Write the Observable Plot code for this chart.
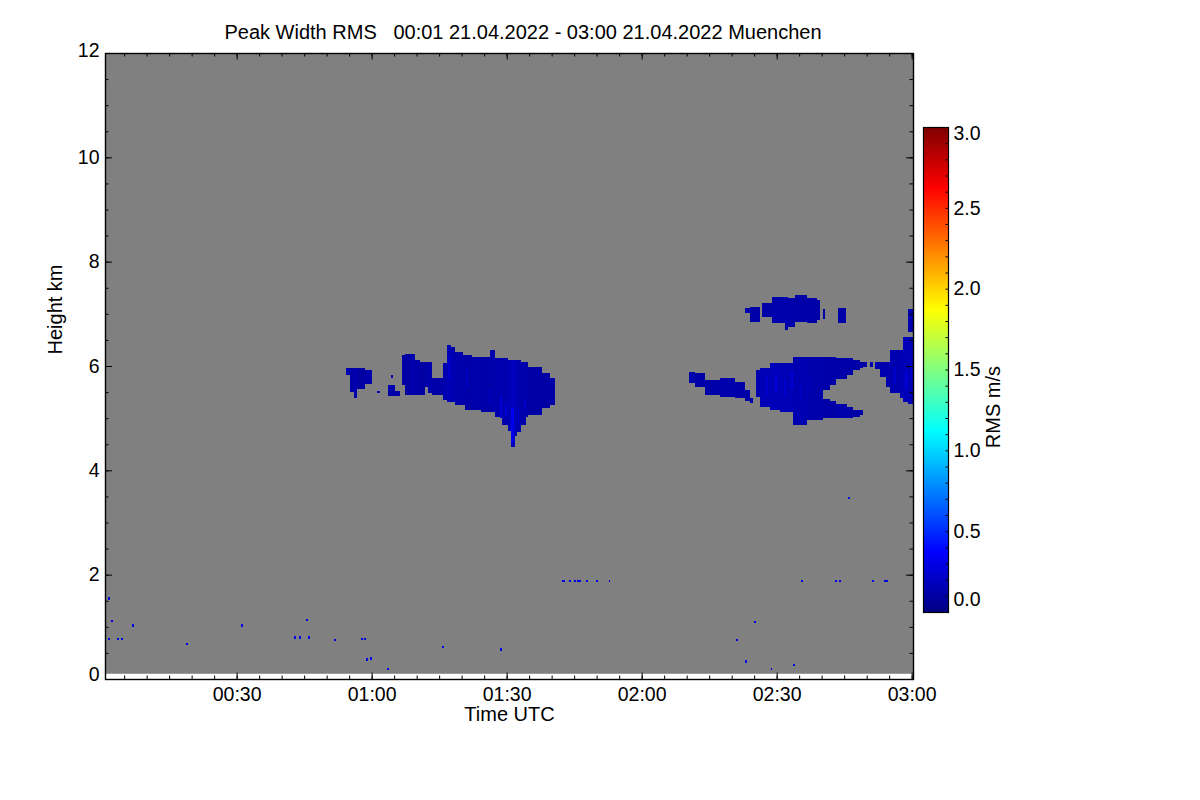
<!DOCTYPE html>
<html>
<head>
<meta charset="utf-8">
<script src="https://cdn.jsdelivr.net/npm/d3@7"></script>
<script src="https://cdn.jsdelivr.net/npm/@observablehq/plot@0.6"></script>
<style>
  html,body{margin:0;padding:0;background:#fff;}
  #chart{position:relative;width:1200px;height:800px;overflow:hidden;font-family:"Liberation Sans",Arial,Helvetica,sans-serif;}
  #chart svg{position:absolute;left:0;top:0;}
  #title{position:absolute;left:0;top:21px;width:1046px;text-align:center;font-size:20px;color:#000;white-space:pre;z-index:2;}
</style>
</head>
<body>
<div id="chart"><div id="title">Peak Width RMS   00:01 21.04.2022 - 03:00 21.04.2022 Muenchen</div></div>
<script>
// ---------- data (time in minutes after 00:00 UTC, height in km, RMS in m/s) ----------
const timeStartMin = 0.75, timeEndMin = 180.3;
const gateBottomKm = 0.1, gateTopKm = 12;
const colorDomain = [0, 3];

const xTicksMajor = [30, 60, 90, 120, 150, 180];
const xTickLabels = ["00:30", "01:00", "01:30", "02:00", "02:30", "03:00"];
const yTicksMajor = [0, 2, 4, 6, 8, 10, 12];
const cbarTicks = [0, 0.5, 1, 1.5, 2, 2.5, 3];
const cbarLabels = ["0.0", "0.5", "1.0", "1.5", "2.0", "2.5", "3.0"];

// echo columns: [t0, t1, bottomKm, topKm, rms]
const blobA = [
  [54.3, 55.2, 5.83, 5.96, 0.15],
  [55.2, 56.0, 5.50, 5.96, 0.12],
  [56.0, 56.7, 5.39, 5.96, 0.14],
  [56.7, 58.5, 5.55, 5.96, 0.11],
  [58.5, 60.1, 5.65, 5.92, 0.13]
];
const blobBits = [
  [61.2, 61.8, 5.48, 5.52, 0.15],
  [63.7, 65.3, 5.43, 5.64, 0.13],
  [64.4, 64.7, 5.77, 5.83, 0.15],
  [65.3, 66.3, 5.43, 5.52, 0.12]
];
const blobMain = [
  [66.8, 67.4, 5.64, 6.21, 0.12],
  [67.4, 68.5, 5.44, 6.23, 0.11],
  [68.5, 69.6, 5.44, 6.23, 0.13],
  [69.6, 70.7, 5.44, 6.11, 0.12],
  [70.7, 71.8, 5.44, 6.08, 0.11],
  [71.8, 72.5, 5.60, 6.08, 0.12],
  [72.5, 73.4, 5.48, 6.08, 0.13],
  [73.4, 75.8, 5.44, 5.77, 0.12],
  [75.8, 76.7, 5.35, 6.06, 0.14],
  [76.7, 77.6, 5.31, 6.40, 0.16],
  [77.6, 78.5, 5.31, 6.37, 0.15],
  [78.5, 80.3, 5.25, 6.27, 0.14],
  [80.3, 80.7, 5.25, 6.21, 0.13],
  [80.7, 82.3, 5.16, 6.21, 0.12],
  [82.3, 84.4, 5.16, 6.18, 0.13],
  [84.4, 86.3, 5.12, 6.18, 0.12],
  [86.3, 87.4, 5.12, 6.30, 0.13],
  [87.4, 88.9, 5.03, 6.15, 0.14],
  [88.9, 90.4, 4.87, 6.15, 0.14],
  [90.4, 91.0, 4.75, 6.11, 0.16],
  [91.0, 91.9, 4.45, 6.11, 0.18],
  [91.9, 92.2, 4.65, 6.11, 0.16],
  [92.2, 93.3, 4.73, 6.11, 0.14],
  [93.3, 94.4, 4.87, 6.08, 0.13],
  [94.4, 94.8, 5.03, 6.08, 0.12],
  [94.8, 96.3, 5.06, 5.99, 0.11],
  [96.3, 97.8, 5.06, 5.99, 0.12],
  [97.8, 99.6, 5.19, 5.87, 0.11],
  [99.6, 100.7, 5.25, 5.77, 0.12]
];
const mainStreaks = [
  [77.0, 77.5, 5.75, 6.20, 0.22],
  [81.0, 81.4, 5.60, 5.95, 0.20],
  [86.0, 86.4, 5.25, 5.55, 0.22],
  [88.5, 88.9, 5.00, 5.40, 0.28],
  [89.7, 90.0, 5.05, 5.30, 0.25],
  [91.0, 91.6, 4.55, 5.20, 0.32],
  [92.5, 92.8, 4.90, 5.15, 0.26],
  [93.9, 94.2, 5.15, 5.35, 0.22]
];
const blobE = [
  [130.6, 131.8, 5.67, 5.89, 0.13],
  [131.8, 134.1, 5.60, 5.87, 0.12],
  [134.1, 137.4, 5.44, 5.73, 0.12],
  [137.4, 140.7, 5.41, 5.77, 0.13],
  [140.7, 143.0, 5.38, 5.70, 0.12],
  [143.0, 144.1, 5.32, 5.54, 0.12],
  [144.1, 144.7, 5.29, 5.39, 0.12]
];
const blobF = [
  [145.4, 146.3, 5.41, 5.92, 0.14],
  [146.3, 148.5, 5.21, 5.96, 0.16],
  [148.5, 150.7, 5.16, 6.05, 0.17],
  [150.7, 153.7, 5.12, 6.05, 0.16],
  [153.7, 156.7, 4.87, 6.18, 0.15],
  [156.7, 158.1, 4.96, 6.18, 0.14],
  [158.1, 160.4, 4.96, 6.18, 0.13],
  [160.4, 161.8, 5.54, 6.18, 0.12], [160.4, 161.8, 5.00, 5.36, 0.12],
  [161.8, 163.3, 5.64, 6.18, 0.12], [161.8, 163.3, 5.00, 5.32, 0.12],
  [163.3, 165.6, 5.76, 6.15, 0.12], [163.3, 165.6, 5.00, 5.28, 0.13],
  [165.6, 167.0, 5.83, 6.15, 0.12], [165.6, 167.0, 5.00, 5.22, 0.12],
  [167.0, 168.5, 5.92, 6.11, 0.12], [167.0, 168.5, 5.03, 5.16, 0.12],
  [168.5, 169.2, 5.96, 6.08, 0.12], [168.5, 169.2, 5.06, 5.16, 0.12],
  [169.2, 170.0, 5.98, 6.08, 0.12],
  [170.8, 171.4, 5.98, 6.08, 0.12]
];
const fStreaks = [
  [147.6, 148.0, 5.45, 5.80, 0.24],
  [149.6, 150.1, 5.50, 5.85, 0.27],
  [151.6, 152.0, 5.40, 5.75, 0.23],
  [153.1, 153.6, 5.55, 5.90, 0.26],
  [155.1, 155.5, 5.35, 5.65, 0.22],
  [157.1, 157.5, 5.50, 5.75, 0.21]
];
const blobG = [
  [171.8, 172.9, 5.95, 6.08, 0.13],
  [172.9, 174.4, 5.79, 6.08, 0.14],
  [174.4, 175.2, 5.60, 6.08, 0.14],
  [175.2, 177.4, 5.48, 6.31, 0.15],
  [177.4, 178.1, 5.38, 6.31, 0.16],
  [178.1, 179.2, 5.31, 6.56, 0.17],
  [179.2, 180.3, 5.28, 6.56, 0.16],
  [179.2, 180.3, 6.66, 7.10, 0.14]
];
const gStreaks = [
  [176.1, 176.5, 5.65, 5.95, 0.24],
  [178.5, 178.9, 5.55, 5.90, 0.27],
  [179.6, 180.0, 5.75, 6.05, 0.23]
];
const blobD = [
  [143.0, 144.1, 7.02, 7.12, 0.13],
  [144.1, 146.3, 6.85, 7.14, 0.12],
  [146.7, 148.9, 6.94, 7.20, 0.12],
  [148.9, 151.8, 6.82, 7.33, 0.13],
  [151.8, 152.6, 6.69, 7.33, 0.14],
  [152.6, 154.1, 6.75, 7.30, 0.13],
  [154.1, 156.7, 6.85, 7.36, 0.12],
  [156.7, 158.9, 6.82, 7.30, 0.12],
  [158.9, 159.6, 6.88, 7.26, 0.12],
  [160.2, 160.8, 6.90, 7.10, 0.12],
  [163.7, 165.4, 6.82, 7.12, 0.12]
];
// isolated single-gate echoes: [time, heightKm]
const speckles = [
  [1.64, 1.54], [2.36, 1.11], [6.96, 1.03], [0.9, 0.77], [1.6, 0.77], [3.6, 0.77], [4.5, 0.77],
  [18.96, 0.67], [31.2, 1.03], [42.96, 0.79], [44.1, 0.79], [45.6, 1.13], [46.1, 0.79],
  [51.8, 0.75], [57.8, 0.77], [58.5, 0.77], [58.96, 0.37], [59.8, 0.39], [63.6, 0.19],
  [75.8, 0.61], [88.7, 0.56],
  [102.5, 1.88], [102.9, 1.88], [104.1, 1.88], [105.2, 1.88], [105.9, 1.88], [106.3, 1.88],
  [107.8, 1.88], [110.1, 1.88], [112.9, 1.88],
  [155.6, 1.88], [163.2, 1.88], [164.1, 1.88], [171.4, 1.88], [174.1, 1.88], [174.5, 1.88],
  [166.1, 3.47], [141.2, 0.75], [145.2, 1.09], [143.2, 0.34], [148.9, 0.19], [153.8, 0.27]
];
const speckleRms = 0.3;

// ---------- helpers ----------
function clamp01(v) { return Math.max(0, Math.min(1, v)); }
function jet(t) {
  const r = clamp01(1.5 - Math.abs(4 * t - 3));
  const g = clamp01(1.5 - Math.abs(4 * t - 2));
  const b = clamp01(1.5 - Math.abs(4 * t - 1));
  return `rgb(${Math.round(r * 255)},${Math.round(g * 255)},${Math.round(b * 255)})`;
}
const toRows = (arr) => arr.map(([t0, t1, b, t, v]) => ({t0, t1, b, t, v}));
const cells = [blobA, blobBits, blobMain, blobE, blobF, blobG, blobD].flatMap(toRows);
const streaks = [mainStreaks, fStreaks, gStreaks].flatMap(toRows);
const gateW = 0.35, gateH = 0.05;
const speckleRows = speckles.map(([tm, h]) => ({t0: tm - gateW / 2, t1: tm + gateW / 2, b: h - gateH / 2, t: h + gateH / 2, v: speckleRms}));
const coverage = [[timeStartMin, timeEndMin, gateBottomKm, gateTopKm]];

const xMinor = d3.range(5, 181, 5);
const yMinor = d3.range(0, 12.01, 0.5);
const cbarMinor = d3.range(0, 3.001, 0.1);

const FONT = '"Liberation Sans", Arial, Helvetica, sans-serif';
const W = 1200, H = 800;
const mL = 105, mR = 287, mT = 53, mB = 121;
const plotW = W - mL - mR, plotH = H - mT - mB;
const colorOpts = {type: "linear", domain: colorDomain, interpolate: jet};

const yInner = yTicksMajor.filter(d => d !== 0 && d !== 12);

const main = Plot.plot({
  width: W, height: H,
  marginLeft: mL, marginRight: mR, marginTop: mT, marginBottom: mB,
  style: {fontFamily: FONT, fontSize: "19.5px", background: "transparent", color: "#000", overflow: "visible"},
  x: {domain: [timeStartMin, timeEndMin], axis: null},
  y: {domain: [0, 12], axis: null},
  color: colorOpts,
  marks: [
    Plot.rect(coverage, {x1: d => d[0], x2: d => d[1], y1: d => d[2], y2: d => d[3], fill: "#808080"}),
    Plot.rect(cells, {x1: "t0", x2: "t1", y1: "b", y2: "t", fill: "v", shapeRendering: "crispEdges"}),
    Plot.rect(streaks, {x1: "t0", x2: "t1", y1: "b", y2: "t", fill: "v", shapeRendering: "crispEdges"}),
    Plot.rect(speckleRows, {x1: "t0", x2: "t1", y1: "b", y2: "t", fill: "v", shapeRendering: "crispEdges"}),
    // inward ticks, all four sides
    Plot.ruleX(xMinor, {x: d => d, insetTop: plotH - 3.5, stroke: "#000"}),
    Plot.ruleX(xMinor, {x: d => d, insetBottom: plotH - 3.5, stroke: "#000"}),
    Plot.ruleX(xTicksMajor, {x: d => d, insetTop: plotH - 6.5, stroke: "#000"}),
    Plot.ruleX(xTicksMajor, {x: d => d, insetBottom: plotH - 6.5, stroke: "#000"}),
    Plot.ruleY(yMinor, {y: d => d, insetRight: plotW - 3.5, stroke: "#000"}),
    Plot.ruleY(yMinor, {y: d => d, insetLeft: plotW - 3.5, stroke: "#000"}),
    Plot.ruleY(yTicksMajor, {y: d => d, insetRight: plotW - 7, stroke: "#000"}),
    Plot.ruleY(yTicksMajor, {y: d => d, insetLeft: plotW - 7, stroke: "#000"}),
    Plot.frame({stroke: "#000", strokeWidth: 1.4}),
    // tick labels
    Plot.text(xTicksMajor, {x: d => d, frameAnchor: "bottom", text: (d, i) => xTickLabels[i], dy: 21, fontSize: 19.5}),
    Plot.text(yInner, {y: d => d, frameAnchor: "left", text: d => String(d), textAnchor: "end", dx: -6, fontSize: 19.5}),
    Plot.text([0], {y: d => d, frameAnchor: "left", text: d => String(d), textAnchor: "end", dx: -6, dy: -5, fontSize: 19.5}),
    Plot.text([12], {y: d => d, frameAnchor: "left", text: d => String(d), textAnchor: "end", dx: -6, dy: -3, fontSize: 19.5}),
    // axis titles
    Plot.text(["Time UTC"], {frameAnchor: "bottom", text: d => d, dy: 41, fontSize: 20}),
    Plot.text(["Height km"], {frameAnchor: "left", text: d => d, rotate: -90, dx: -50, dy: -12, fontSize: 20})
  ]
});

const cbar = Plot.plot({
  width: W, height: H,
  marginLeft: 923, marginRight: 252, marginTop: 127, marginBottom: 188,
  style: {fontFamily: FONT, fontSize: "19.5px", background: "transparent", color: "#000", overflow: "visible"},
  x: {domain: [0, 1], axis: null},
  y: {domain: colorDomain, axis: null},
  color: colorOpts,
  marks: [
    Plot.raster({x1: 0, x2: 1, y1: colorDomain[0], y2: colorDomain[1], width: 1, height: 485, fill: (x, y) => y}),
    Plot.ruleY(cbarMinor, {y: d => d, insetLeft: 22.5, stroke: "#000"}),
    Plot.frame({stroke: "#000", strokeWidth: 1.2}),
    Plot.text(cbarTicks.slice(1, -1), {y: d => d, frameAnchor: "right", text: (d, i) => cbarLabels[i + 1], textAnchor: "start", dx: 5, fontSize: 19.5}),
    Plot.text([cbarTicks[0]], {y: d => d, frameAnchor: "right", text: () => cbarLabels[0], textAnchor: "start", dx: 5, dy: -13, fontSize: 19.5}),
    Plot.text([cbarTicks[cbarTicks.length - 1]], {y: d => d, frameAnchor: "right", text: () => cbarLabels[cbarLabels.length - 1], textAnchor: "start", dx: 5, dy: 6, fontSize: 19.5}),
    Plot.text(["RMS m/s"], {frameAnchor: "right", text: d => d, rotate: -90, dx: 45, dy: -4, fontSize: 20})
  ]
});

const host = document.getElementById("chart");
host.appendChild(main);
host.appendChild(cbar);
</script>
</body>
</html>
